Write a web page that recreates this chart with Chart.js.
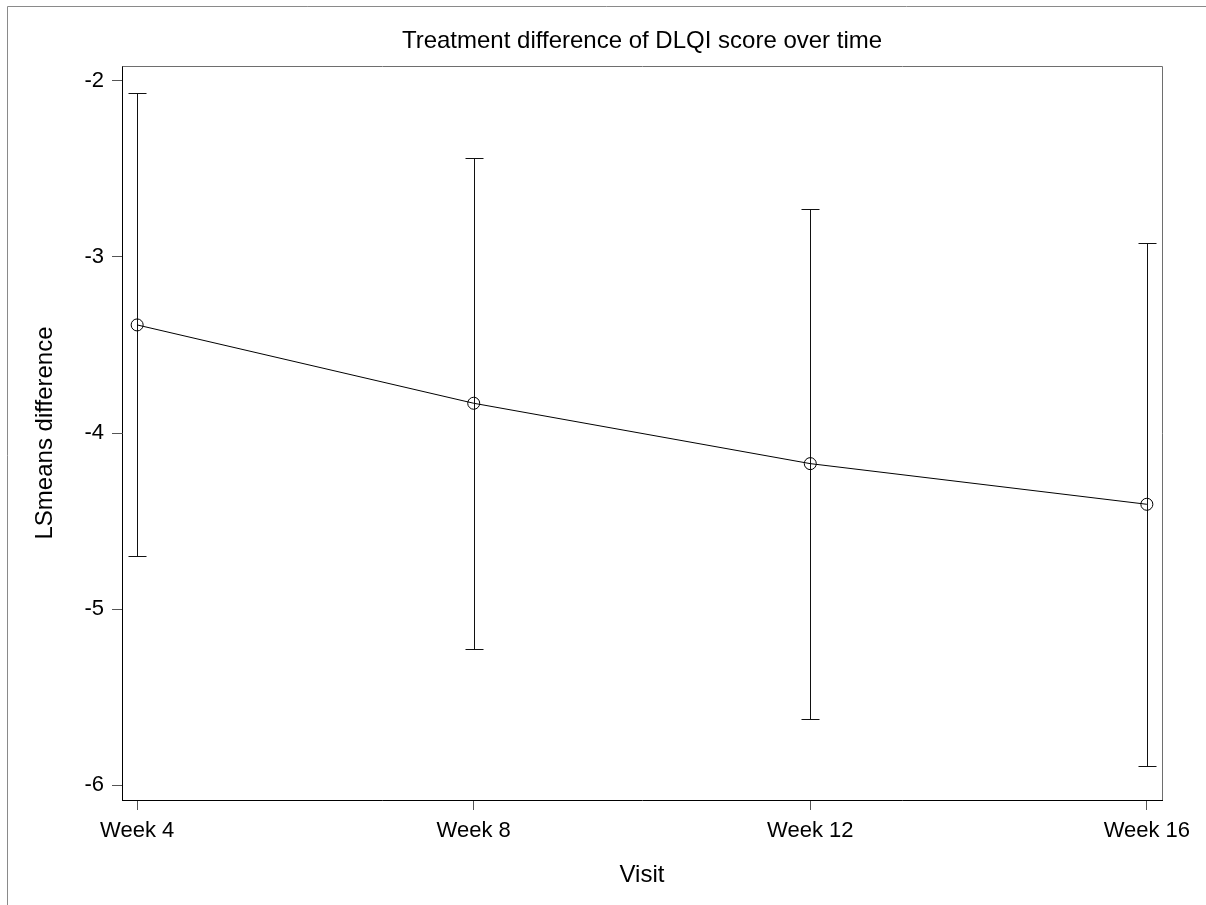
<!DOCTYPE html>
<html>
<head>
<meta charset="utf-8">
<script src="https://cdn.jsdelivr.net/npm/chart.js@4.4.1/dist/chart.umd.min.js"></script>
<style>
  html, body { margin: 0; padding: 0; background: #fff; }
  #wrap { position: relative; width: 1206px; height: 905px; }
</style>
</head>
<body>
<div id="wrap"><canvas id="c" width="1206" height="905"></canvas></div>
<script>
// Visits and treatment difference (LS means) with 95% CI limits
const visits = ['Week 4', 'Week 8', 'Week 12', 'Week 16'];
const weeks = [4, 8, 12, 16];
const lsMeanDiff = [-3.386, -3.831, -4.174, -4.405];
const ciUpper = [-2.070, -2.437, -2.725, -2.920];
const ciLower = [-4.697, -5.227, -5.623, -5.890];
const yTickValues = [-2, -3, -4, -5, -6];

const FONT = '"Liberation Sans", Arial, Helvetica, sans-serif';

// Outer page frame and the grey top/right edges of the plot box
const framePlugin = {
  id: 'framePlugin',
  beforeDraw(chart) {
    const ctx = chart.ctx;
    ctx.save();
    ctx.strokeStyle = '#8a8a8a';
    ctx.lineWidth = 1;
    ctx.beginPath();
    ctx.moveTo(7.5, 905);
    ctx.lineTo(7.5, 6.5);
    ctx.lineTo(1206, 6.5);
    ctx.stroke();
    ctx.restore();
  },
  afterDraw(chart) {
    const { ctx, chartArea: a } = chart;
    ctx.save();
    ctx.strokeStyle = '#6e6e6e';
    ctx.lineWidth = 1;
    ctx.beginPath();
    ctx.moveTo(Math.round(a.left) + 0.5, Math.round(a.top) + 0.5);
    ctx.lineTo(Math.round(a.right) + 0.5, Math.round(a.top) + 0.5);
    ctx.lineTo(Math.round(a.right) + 0.5, Math.round(a.bottom));
    ctx.stroke();
    ctx.restore();
  }
};

// Vertical confidence-interval bars with end caps
const errorBarPlugin = {
  id: 'errorBarPlugin',
  beforeDatasetsDraw(chart) {
    const { ctx, scales: { x, y } } = chart;
    const cap = 9;
    ctx.save();
    ctx.strokeStyle = '#111';
    ctx.lineWidth = 1;
    weeks.forEach((w, i) => {
      const px = Math.round(x.getPixelForValue(w)) + 0.5;
      const yu = Math.round(y.getPixelForValue(ciUpper[i])) + 0.5;
      const yl = Math.round(y.getPixelForValue(ciLower[i])) + 0.5;
      ctx.beginPath();
      ctx.moveTo(px, yu);
      ctx.lineTo(px, yl);
      ctx.moveTo(px - cap, yu);
      ctx.lineTo(px + cap, yu);
      ctx.moveTo(px - cap, yl);
      ctx.lineTo(px + cap, yl);
      ctx.stroke();
    });
    ctx.restore();
  }
};

new Chart(document.getElementById('c'), {
  type: 'line',
  data: {
    datasets: [{
      data: weeks.map((w, i) => ({ x: w, y: lsMeanDiff[i] })),
      borderColor: '#000',
      borderWidth: 1,
      pointRadius: 6,
      pointBorderWidth: 1,
      pointBorderColor: '#000',
      pointBackgroundColor: 'rgba(0,0,0,0)',
      tension: 0,
      fill: false
    }]
  },
  options: {
    responsive: false,
    animation: false,
    devicePixelRatio: 1,
    layout: { padding: { top: 26.6, left: 0, right: 44, bottom: 0 } },
    plugins: {
      legend: { display: false },
      tooltip: { enabled: false },
      title: {
        display: true,
        fullSize: false,
        text: 'Treatment difference of DLQI score over time',
        color: '#000',
        font: { family: FONT, size: 24, weight: 'normal' },
        padding: { top: 0, bottom: 10.6 }
      }
    },
    scales: {
      x: {
        type: 'linear',
        min: 3.82,
        max: 16.18,
        afterFit(s) { s.height = 105; },
        afterBuildTicks(s) { s.ticks = weeks.map(v => ({ value: v })); },
        border: { color: '#000', width: 1 },
        grid: { drawOnChartArea: false, drawTicks: true, tickLength: 10, color: '#555' },
        ticks: {
          color: '#000',
          font: { family: FONT, size: 22 },
          padding: 8,
          maxRotation: 0,
          callback: (v) => visits[weeks.indexOf(v)]
        },
        title: {
          display: true,
          text: 'Visit',
          color: '#000',
          font: { family: FONT, size: 24 },
          padding: { top: 0, bottom: 15.6 }
        }
      },
      y: {
        type: 'linear',
        min: -6.085,
        max: -1.915,
        afterFit(s) { s.width = 122; },
        afterBuildTicks(s) { s.ticks = yTickValues.map(v => ({ value: v })); },
        border: { color: '#000', width: 1 },
        grid: { drawOnChartArea: false, drawTicks: true, tickLength: 10, color: '#555' },
        ticks: {
          color: '#000',
          font: { family: FONT, size: 22 },
          padding: 8,
          callback: (v) => String(v)
        },
        title: {
          display: true,
          text: 'LSmeans difference',
          color: '#000',
          font: { family: FONT, size: 24 },
          padding: { top: 30.6, bottom: 0 }
        }
      }
    }
  },
  plugins: [framePlugin, errorBarPlugin]
});
</script>
</body>
</html>
